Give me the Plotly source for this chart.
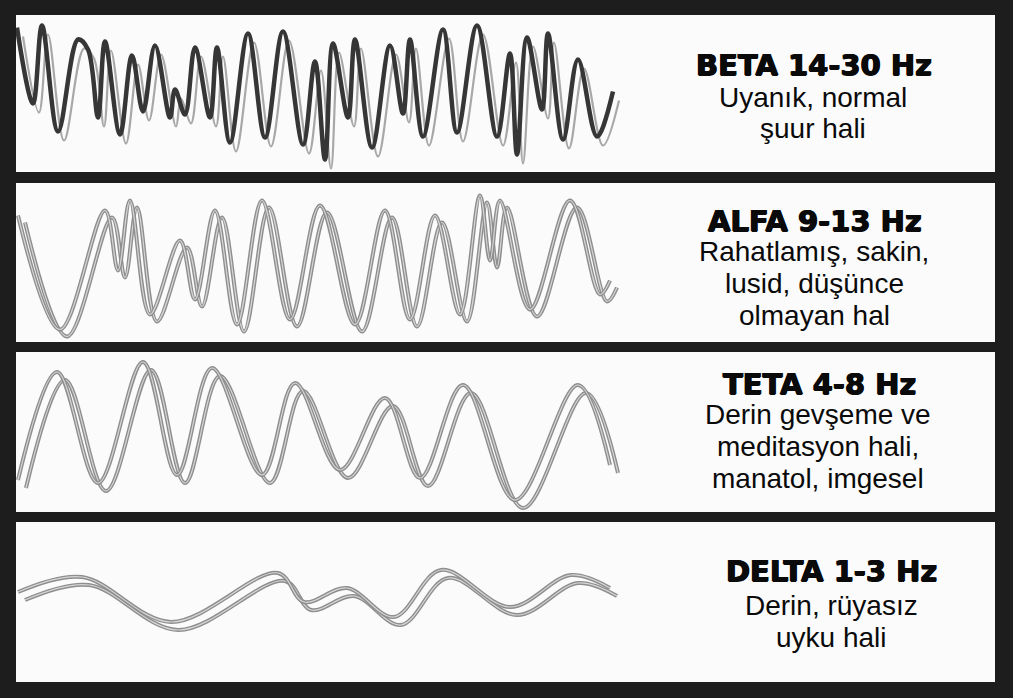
import plotly.graph_objects as go

W, H = 1013, 698

# ---- data (time position, amplitude) ----
beta_t = [17, 33, 42, 58, 78, 88, 98, 105, 120, 132, 143, 155, 170, 175, 185, 195, 210, 217, 230,
          248, 265, 283, 303, 315, 325, 333, 348, 355, 372, 390, 403, 410, 423, 443, 457, 477, 497,
          510, 517, 527, 542, 548, 563, 578, 597, 613]
beta_v = [66, -10, 68, -38, 54, 44, -24, 52, -41, 38, -18, 48, -24, 4, -21, 46, -24, 46, -49,
          60, -44, 62, -51, 32, -66, 50, -24, 54, -54, 48, -20, 54, -43, 64, -39, 68, -43,
          40, -61, 56, -16, 60, -46, 34, -43, 2]

alfa_t = [18, 60, 105, 118, 130, 150, 180, 195, 215, 237, 262, 290, 320, 355, 385, 410, 435, 460,
          480, 490, 500, 530, 570, 600, 610]
alfa_v = [47, -67, 52, -8, 62, -52, 22, -37, 52, -62, 62, -57, 57, -62, 52, -57, 47, -52,
          67, 2, 62, -47, 62, -32, -18]

teta_t = [18, 57, 98, 143, 177, 212, 262, 295, 340, 385, 420, 463, 515, 578, 610]
teta_v = [-48, 60, -51, 70, -43, 64, -43, 49, -38, 34, -46, 47, -68, 47, -33]

delta_t = [18, 82, 171, 278, 304, 347, 394, 441, 510, 571, 610]
delta_v = [10, 25, -20, 29, 0, 14, -15, 32, -5, 27, 14]

titles = ["BETA 14-30 Hz", "ALFA 9-13 Hz", "TETA 4-8 Hz", "DELTA 1-3 Hz"]
descriptions = [
    ["Uyanık, normal", "şuur hali"],
    ["Rahatlamış, sakin,", "lusid, düşünce", "olmayan hal"],
    ["Derin gevşeme ve", "meditasyon hali,", "manatol, imgesel"],
    ["Derin, rüyasız", "uyku hali"],
]

# ---- layout geometry (pixels) ----
panels = [(15, 172), (183, 342), (352, 512), (522, 682)]
x_left, x_right = 16, 995
title_pos = [(814, 65), (815, 221), (819, 384), (831, 571)]
desc_pos = [[(813, 97), (813, 129)],
            [(814, 251), (814, 283), (814, 315)],
            [(818, 414), (818, 446), (818, 478)],
            [(831, 605), (831, 637)]]

series = [(beta_t, beta_v), (alfa_t, alfa_v), (teta_t, teta_v), (delta_t, delta_v)]
offsets = [(6, -9), (7, -7), (8, -8), (7, -8)]

fig = go.Figure()
layout = dict(width=W, height=H, margin=dict(l=0, r=0, t=0, b=0),
              paper_bgcolor="#1d1d1d", plot_bgcolor="#fbfbfb", showlegend=False)

annotations = []
for i, ((top, bot), (t, v), (dx, dy)) in enumerate(zip(panels, series, offsets)):
    k = "" if i == 0 else str(i + 1)
    half = (bot - top) / 2
    layout["xaxis" + k] = dict(domain=[x_left / W, x_right / W], range=[x_left, x_right],
                               visible=False, fixedrange=True, anchor="y" + k)
    layout["yaxis" + k] = dict(domain=[1 - bot / H, 1 - top / H], range=[-half, half],
                               visible=False, fixedrange=True, anchor="x" + k)
    t2 = [a + dx for a in t]
    v2 = [b + dy for b in v]
    xa, ya = "x" + k, "y" + k
    if i == 0:
        fig.add_trace(go.Scatter(x=t2, y=v2, mode="lines", xaxis=xa, yaxis=ya, hoverinfo="skip",
                                 line=dict(color="#a8a8a8", width=2.2, shape="spline", smoothing=1)))
        fig.add_trace(go.Scatter(x=t, y=v, mode="lines", xaxis=xa, yaxis=ya, hoverinfo="skip",
                                 line=dict(color="#363636", width=4.5, shape="spline", smoothing=1)))
    else:
        for xs, ys in ((t2, v2), (t, v)):
            fig.add_trace(go.Scatter(x=xs, y=ys, mode="lines", xaxis=xa, yaxis=ya, hoverinfo="skip",
                                     line=dict(color="#8e8e8e", width=4, shape="spline", smoothing=1)))
            fig.add_trace(go.Scatter(x=xs, y=ys, mode="lines", xaxis=xa, yaxis=ya, hoverinfo="skip",
                                     line=dict(color="#d6d6d6", width=1.2, shape="spline", smoothing=1)))

    tx, ty = title_pos[i]
    annotations.append(dict(text=titles[i], x=tx / W, y=1 - ty / H, xref="paper", yref="paper",
                            xanchor="center", yanchor="middle", showarrow=False,
                            font=dict(family="DejaVu Sans", size=29, color="#0a0a0a", weight="bold",
                                      shadow="0.7px 0 0 #0a0a0a, -0.7px 0 0 #0a0a0a, 0 0.5px 0 #0a0a0a")))
    for line, (dxp, dyp) in zip(descriptions[i], desc_pos[i]):
        annotations.append(dict(text=line, x=dxp / W, y=1 - dyp / H, xref="paper", yref="paper",
                                xanchor="center", yanchor="middle", showarrow=False,
                                font=dict(family="Liberation Sans", size=28, color="#0a0a0a")))

layout["annotations"] = annotations
fig.update_layout(**layout)
fig.write_html("out.html", config={"displayModeBar": False},
               post_script="document.body.style.margin='0';")
